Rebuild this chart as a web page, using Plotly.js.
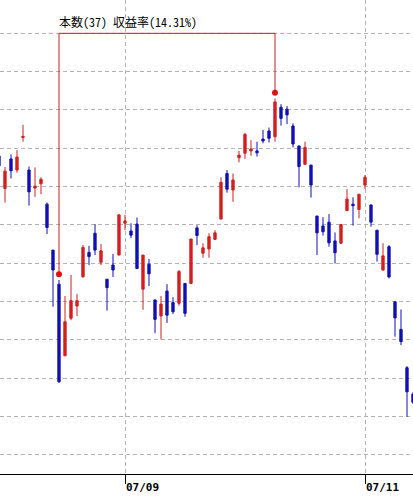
<!DOCTYPE html>
<html>
<head>
<meta charset="utf-8">
<script src="https://cdn.plot.ly/plotly-3.0.1.min.js"></script>
<style>html,body{margin:0;padding:0;background:#fff;}#chart{width:413px;height:500px;}</style>
</head>
<body>
<div id="chart"></div>
<script>
// Daily OHLC (trading-day index starting at -1; 07/09 = day 20, 07/11 = day 60)
var opens  = [3580,3495,3572,3543,3628,3543,3496,3507,3454,3334,3245,3058,3156,3188,3264,3328,3378,3302,3258,3295,3321,3404,3384,3402,3232,3297,3204,3162,3227,3197,3195,3247,3247,3392,3326,3337,3362,3415,3534,3491,3575,3587,3593,3593,3624,3645,3630,3707,3702,3658,3606,3558,3556,3423,3397,3407,3358,3352,3437,3454,3440,3504,3452,3386,3282,3343,3199,3127,3027,2958];
var highs  = [3590,3551,3584,3595,3661,3552,3550,3524,3458,3334,3256,3214,3269,3219,3347,3345,3402,3350,3258,3324,3426,3426,3404,3419,3321,3311,3204,3214,3245,3211,3282,3247,3363,3399,3352,3378,3386,3524,3543,3534,3593,3640,3621,3617,3648,3654,3730,3715,3710,3665,3606,3617,3556,3423,3420,3428,3380,3401,3493,3472,3480,3530,3452,3386,3352,3347,3199,3179,3031,2963];
var lows   = [3543,3458,3521,3536,3617,3450,3473,3480,3376,3186,2988,3057,3151,3162,3263,3295,3321,3295,3176,3264,3321,3386,3365,3286,3178,3240,3117,3101,3144,3167,3189,3160,3247,3347,3314,3314,3360,3415,3484,3460,3563,3572,3580,3578,3613,3615,3617,3659,3663,3602,3498,3556,3471,3321,3372,3343,3299,3350,3437,3398,3417,3493,3395,3304,3280,3260,3108,3086,2899,2932];
var closes = [3554,3540,3541,3577,3631,3486,3501,3519,3393,3282,2990,3147,3202,3202,3341,3317,3334,3332,3236,3282,3426,3410,3373,3286,3321,3272,3153,3193,3164,3173,3278,3169,3363,3372,3340,3369,3379,3511,3493,3517,3582,3636,3598,3588,3619,3626,3721,3678,3687,3611,3552,3602,3504,3379,3382,3353,3327,3401,3467,3450,3480,3524,3407,3323,3319,3264,3157,3095,2964,2937];
var firstDay = -1;

var tickDays   = [20, 60];
var tickLabels = ['07/09', '07/11'];

// Holding period annotation: start day 9, end day 45
var spanDays   = [9, 45];
var spanMarks  = [3271, 3745];
var spanTop    = 3900;
var spanLabel  = '本数(37) 収益率(14.31%)';

var days = opens.map(function(_, k){ return firstDay + k; });

var RED = '#d41f1f', BLUE = '#1010b4';

var traces = [
  {
    type: 'candlestick', x: days, open: opens, high: highs, low: lows, close: closes,
    increasing: {line: {color: RED, width: 1}, fillcolor: RED},
    decreasing: {line: {color: BLUE, width: 1}, fillcolor: BLUE},
    whiskerwidth: 0, hoverinfo: 'none', showlegend: false
  },
  {
    type: 'scatter', mode: 'lines',
    x: [spanDays[0], spanDays[0], spanDays[1], spanDays[1]],
    y: [spanMarks[0], spanTop, spanTop, spanMarks[1]],
    line: {color: '#c41e1e', width: 1}, hoverinfo: 'none', showlegend: false
  },
  {
    type: 'scatter', mode: 'markers', x: spanDays, y: spanMarks,
    marker: {color: '#e01010', size: 6}, hoverinfo: 'none', showlegend: false
  }
];

var layout = {
  width: 413, height: 500,
  margin: {l: 0, r: 0, t: 0, b: 26, pad: 0},
  paper_bgcolor: '#ffffff', plot_bgcolor: '#ffffff',
  showlegend: false,
  boxgap: 0.45,
  xaxis: {
    type: 'linear', range: [-0.833, 68],
    rangeslider: {visible: false},
    tickmode: 'array', tickvals: tickDays, ticktext: tickLabels,
    ticks: 'outside', ticklen: 9, tickcolor: '#000', tickwidth: 1,
    ticklabelposition: 'outside right', ticklabelstandoff: 3,
    tickfont: {family: 'DejaVu Sans Mono', size: 11, color: '#000', weight: 'bold'},
    showgrid: true, gridcolor: '#b4b4b4', griddash: '4px,3px', gridwidth: 1,
    showline: true, linecolor: '#000', linewidth: 1,
    zeroline: false, fixedrange: true
  },
  yaxis: {
    range: [2749.4, 3987], dtick: 100, tick0: 0,
    showticklabels: false, ticks: '',
    showgrid: true, gridcolor: '#b4b4b4', griddash: '4px,3px', gridwidth: 1,
    showline: false, zeroline: false, fixedrange: true
  },
  annotations: [{
    x: spanDays[0], y: 3932, xref: 'x', yref: 'y',
    text: spanLabel, showarrow: false, xanchor: 'left', yanchor: 'middle',
    xshift: -2,
    font: {family: '"Noto Sans Mono CJK JP", "Noto Sans CJK JP", "DejaVu Sans Mono"', size: 12, color: '#000'}
  }]
};

Plotly.newPlot('chart', traces, layout, {staticPlot: true, displayModeBar: false});
</script>
</body>
</html>
